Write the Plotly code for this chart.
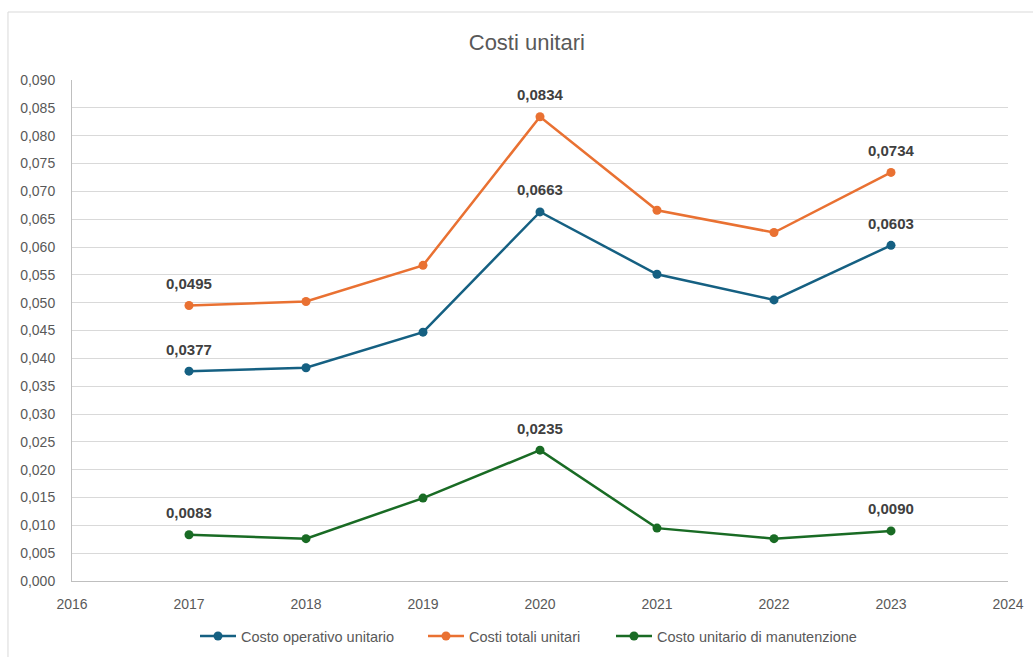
import plotly.graph_objects as go

# Dati: costi unitari per anno
anni = [2017, 2018, 2019, 2020, 2021, 2022, 2023]
costo_operativo = [0.0377, 0.0383, 0.0447, 0.0663, 0.0551, 0.0505, 0.0603]
costi_totali = [0.0495, 0.0502, 0.0567, 0.0834, 0.0666, 0.0626, 0.0734]
costo_manutenzione = [0.0083, 0.0076, 0.0149, 0.0235, 0.0095, 0.0076, 0.0090]
anni_etichettati = [2017, 2020, 2023]

serie = [
    ("Costo operativo unitario", costo_operativo, "#156082", "legend"),
    ("Costi totali unitari", costi_totali, "#E97132", "legend2"),
    ("Costo unitario di manutenzione", costo_manutenzione, "#196B24", "legend3"),
]

FONT = "Liberation Sans, Arial, sans-serif"
L, R, T, B = 72, 25, 80, 76
W, H = 1033, 657
plot_w = W - L - R


def px_to_paper_x(px):
    return (px - L) / plot_w


fig = go.Figure()
annotations = []
for nome, valori, colore, leg in serie:
    fig.add_trace(go.Scatter(
        x=anni, y=valori, name=nome, mode="lines+markers",
        line=dict(color=colore, width=2.5),
        marker=dict(color=colore, size=9),
        legend=leg, showlegend=True,
    ))
    for a, v in zip(anni, valori):
        if a in anni_etichettati:
            annotations.append(dict(
                x=a, y=v, text="<b>" + f"{v:.4f}".replace(".", ",") + "</b>",
                showarrow=False, yshift=22,
                font=dict(family=FONT, size=15, color="#404040"),
            ))

# Cornice esterna del grafico
fig.add_shape(type="rect", xref="paper", yref="paper",
              x0=-0.0684, x1=1.03, y0=-0.3, y1=1.1357,
              line=dict(color="#d9d9d9", width=1), layer="below")

legend_style = dict(orientation="h", y=-0.11, yanchor="middle", xanchor="left",
                    font=dict(family=FONT, size=14.5, color="#595959"),
                    itemwidth=36, bgcolor="rgba(0,0,0,0)")

fig.update_layout(
    width=W, height=H,
    showlegend=True,
    margin=dict(l=L, r=R, t=T, b=B, autoexpand=False),
    paper_bgcolor="white", plot_bgcolor="white",
    separators=",.",
    title=dict(text="Costi unitari", x=0.51, xanchor="center", y=1 - 42 / H, yanchor="middle",
               font=dict(family=FONT, size=22, color="#595959")),
    xaxis=dict(range=[2016, 2024], dtick=1, tick0=2016, showgrid=False,
               showline=True, linecolor="#bfbfbf", linewidth=1, ticks="", ticklabelstandoff=10,
               tickfont=dict(family=FONT, size=14, color="#595959"),
               zeroline=False),
    yaxis=dict(range=[0, 0.09], dtick=0.005, tick0=0, tickformat=".3f",
               showgrid=True, gridcolor="#d9d9d9", gridwidth=1,
               showline=True, linecolor="#bfbfbf", linewidth=1, ticks="", ticklabelstandoff=13,
               tickfont=dict(family=FONT, size=14, color="#595959"),
               zeroline=False),
    legend=dict(x=px_to_paper_x(195), **legend_style),
    legend2=dict(x=px_to_paper_x(423), **legend_style),
    legend3=dict(x=px_to_paper_x(611), **legend_style),
    annotations=annotations,
)

fig.write_html("out.html")
